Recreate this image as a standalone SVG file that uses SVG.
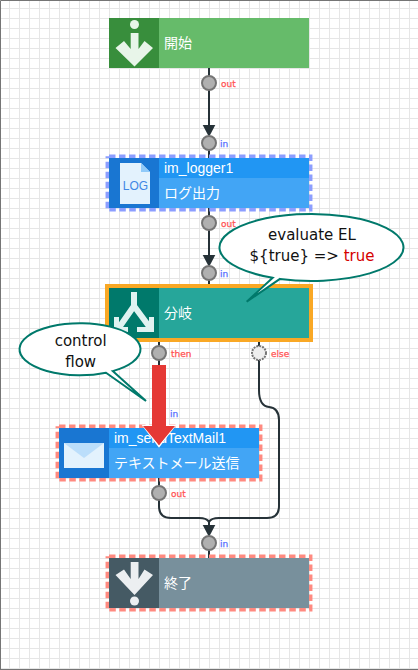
<svg xmlns="http://www.w3.org/2000/svg" width="418" height="670" viewBox="0 0 418 670">
<style>
text{font-family:"Liberation Sans","Noto Sans CJK JP",sans-serif}
.t{fill:#fff;font-size:14px}
.p{fill:#b0b0b0;stroke:#757575;stroke-width:2}
.po{font-size:9px;fill:#ff5252;stroke:#ff5252;stroke-width:.25;font-family:"DejaVu Sans",sans-serif}
.pi{font-size:9px;fill:#536dfe;stroke:#536dfe;stroke-width:.25;font-family:"DejaVu Sans",sans-serif}
.c{fill:none;stroke:#263238;stroke-width:2}
.h{fill:#263238}
.ic{fill:#e8f5e9}
.dr{fill:none;stroke-width:3.500;stroke-dasharray:6.500 3.500;stroke-dashoffset:-1.700}
.b{fill:#fff;stroke:#00796b;stroke-width:2}
.bt{font-size:15px;fill:#111;text-anchor:middle;font-family:"DejaVu Sans",sans-serif}
</style>
<defs>
<pattern id="g" width="10" height="10" patternUnits="userSpaceOnUse" x="0" y="-1">
<path d="M9.5 0V10M0 9.5H10" stroke="#e6e6e6" stroke-width="1" fill="none"/>
</pattern>
</defs>
<rect width="418" height="670" fill="#fff"/>
<rect width="418" height="670" fill="url(#g)"/>
<path d="M0.500 670V0.500H418M0 669.500H418" fill="none" stroke="#757575" stroke-width="1"/>
<g id="connectors">
<path class="c" d="M209 68V132"/>
<path class="h" d="M202.700 125H215.300L209 137Z"/>
<path class="c" d="M209 143V158"/>
<path class="c" d="M209 208V262"/>
<path class="h" d="M202.700 255H215.300L209 267Z"/>
<path class="c" d="M209 273V288"/>
<path class="c" d="M159 338V365"/>
<path class="c" d="M259 338V390Q259 406 269 407Q279 408 279 420V506Q279 518 267 518H219Q211 518 209 522Q207 518 199 518H171Q159 518 159 506V478"/>
<path class="h" d="M202.700 525H215.300L209 537Z"/>
<path class="c" d="M209 522V558"/>
</g>
<g id="start">
<rect x="109" y="18" width="200" height="50" fill="#66bb6a"/>
<rect x="109" y="18" width="50" height="50" fill="#388e3c"/>
<circle cx="134.500" cy="24.500" r="4.500" class="ic"/>
<path class="ic" d="M130.700 33H138.500V49L144.500 41L153 48L134.500 66.500L115.500 48L124 41L130.700 49Z"/>
<text class="t" x="164" y="48">開始</text>
<circle class="p" cx="209" cy="83" r="7"/>
<text class="po" x="221" y="87">out</text>
</g>
<g id="im_logger1">
<rect class="dr" x="107.300" y="156.300" width="203.400" height="53.400" stroke="#8c9eff"/>
<rect x="109" y="158" width="200" height="50" fill="#42a5f5"/>
<rect x="159" y="158" width="150" height="20" fill="#2196f3"/>
<rect x="109" y="158" width="50" height="50" fill="#1976d2"/>
<path d="M120 163H141L150 172V204H120Z" fill="#e3f2fd"/>
<path d="M141 163L150 172H141Z" fill="#90caf9"/>
<text x="135.500" y="189.500" text-anchor="middle" font-size="12" fill="#3f87e5">LOG</text>
<text class="t" x="164" y="173">im_logger1</text>
<text class="t" x="164" y="198">ログ出力</text>
<circle class="p" cx="209" cy="143" r="7"/>
<text class="pi" x="220" y="147">in</text>
<circle class="p" cx="209" cy="223" r="7"/>
<text class="po" x="221" y="227">out</text>
</g>
<g id="branch">
<rect x="107" y="286" width="204" height="54" fill="#26a69a" stroke="#f9a825" stroke-width="4"/>
<rect x="109" y="288" width="50" height="50" fill="#00796b"/>
<path d="M134 292V306L118 329M134 306L151 329" fill="none" stroke="#e0f2f1" stroke-width="6"/>
<path d="M116.500 317V329.500H128M151.500 317V329.500H137" fill="none" stroke="#e0f2f1" stroke-width="5"/>
<text class="t" x="164" y="318">分岐</text>
<circle class="p" cx="209" cy="273" r="7"/>
<text class="pi" x="220" y="277">in</text>
<circle class="p" cx="159" cy="353" r="7"/>
<text class="po" x="171" y="357">then</text>
<circle cx="259" cy="353" r="7" fill="#eee" stroke="#757575" stroke-width="2" stroke-dasharray="2 1"/>
<text class="po" x="271" y="357">else</text>
</g>
<g id="im_sendTextMail1">
<rect class="dr" x="57.300" y="426.300" width="203.400" height="53.400" stroke="#ff8a80"/>
<rect x="59" y="428" width="200" height="50" fill="#42a5f5"/>
<rect x="109" y="428" width="150" height="20" fill="#2196f3"/>
<rect x="59" y="428" width="50" height="50" fill="#1976d2"/>
<rect x="64" y="443" width="40" height="25" fill="#e3f2fd"/>
<path d="M64 443H104L84 458Z" fill="#bbdefb"/>
<text class="t" x="114" y="443">im_sendTextMail1</text>
<text class="t" x="114" y="468">テキストメール送信</text>
<text class="pi" x="170" y="417">in</text>
<circle class="p" cx="159" cy="493" r="7"/>
<text class="po" x="171" y="497">out</text>
</g>
<g id="end">
<rect class="dr" x="107.300" y="556.300" width="203.400" height="53.400" stroke="#ff8a80"/>
<rect x="109" y="558" width="200" height="50" fill="#78909c"/>
<rect x="109" y="558" width="50" height="50" fill="#455a64"/>
<path d="M130.700 562H138.500V579L144.500 569.500L153 575L134.500 595L115.500 575L124 569.500L130.700 579Z" fill="#eceff1"/>
<circle cx="134.500" cy="601" r="4.500" fill="#eceff1"/>
<text class="t" x="164" y="588">終了</text>
<circle class="p" cx="209" cy="543" r="7"/>
<text class="pi" x="220" y="547">in</text>
</g>
<g id="flow-arrow">
<path d="M143 425.500H175L159 446.500Z" fill="#e53935" stroke="#fff" stroke-width="1.500"/>
<path d="M152 365H166V426H175L159 445L143 426H152Z" fill="#e53935"/>
</g>
<g id="callout-el">
<path class="b" d="M272.700 277.800L246.700 301.700L280 278.900A92 33.500 0 1 0 272.700 277.800Z"/>
<text class="bt" x="312" y="240">evaluate EL</text>
<text class="bt" x="312" y="261">${true} =&gt; <tspan fill="#d50000">true</tspan></text>
</g>
<g id="callout-flow">
<path class="b" d="M106 372.700L146 401L112.700 371.100A60.500 26 0 1 0 106 372.700Z"/>
<text class="bt" x="80.700" y="346">control</text>
<text class="bt" x="80.700" y="367">flow</text>
</g>
</svg>
